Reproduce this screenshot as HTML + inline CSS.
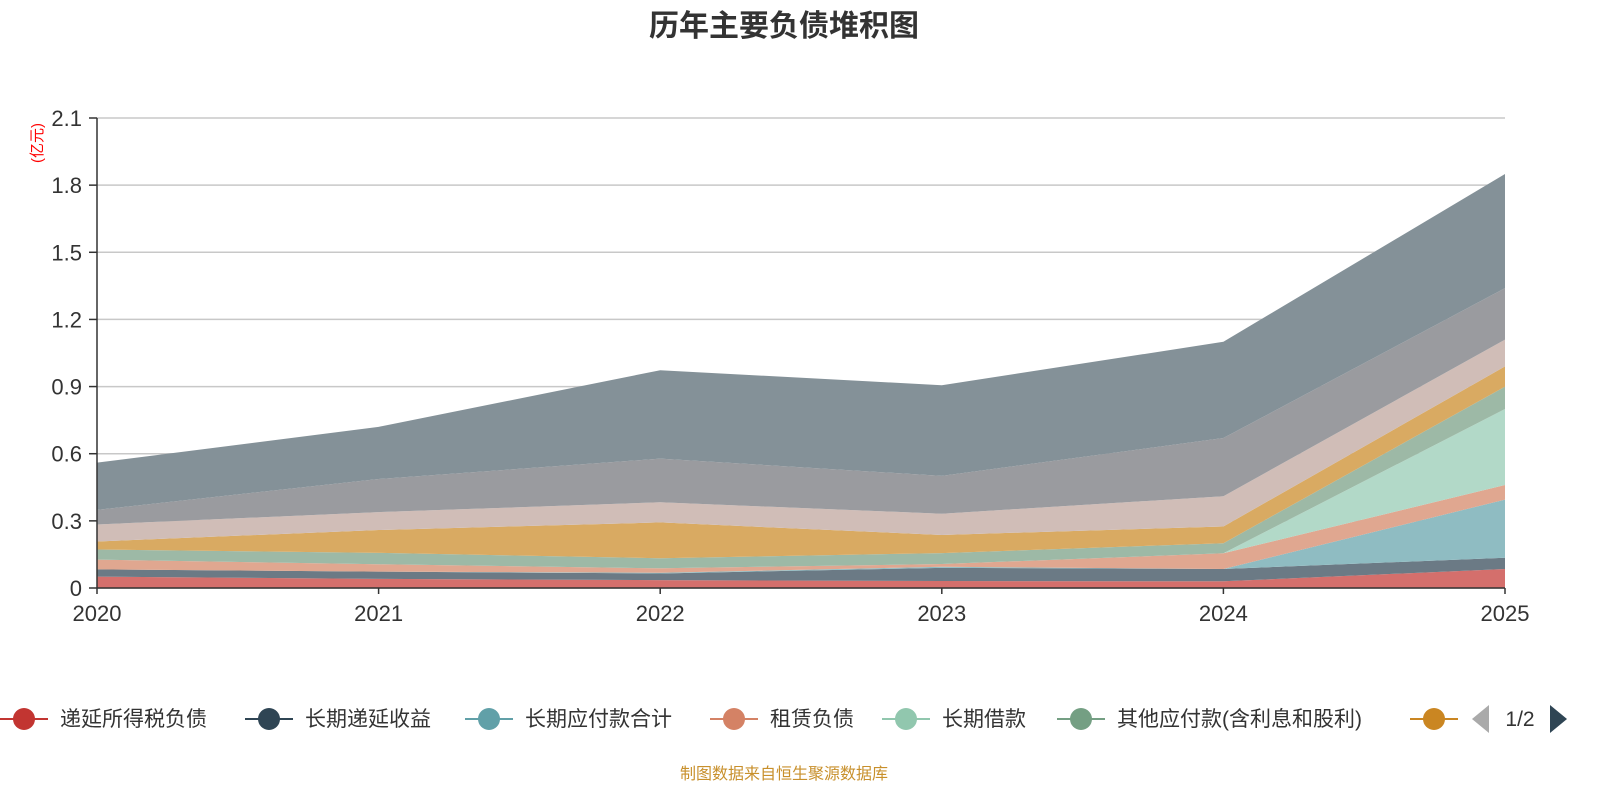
<!DOCTYPE html>
<html><head><meta charset="utf-8">
<style>
body{margin:0;background:#fff;font-family:"Liberation Sans","Noto Sans CJK SC",sans-serif;}
#wrap{position:relative;width:1600px;height:800px;overflow:hidden;}
svg text{font-family:"Liberation Sans","Noto Sans CJK SC",sans-serif;}
</style></head>
<body>
<div id="wrap">
<svg id="chart" width="1600" height="800"></svg>
</div>
<script>
const years = ["2020","2021","2022","2023","2024","2025"];
const seriesNames = ["递延所得税负债","长期递延收益","长期应付款合计","租赁负债","长期借款","其他应付款(含利息和股利)","应交税费","应付职工薪酬","合同负债","应付账款"];
const s0 = [0.051,0.041,0.035,0.031,0.030,0.085];
const s1 = [0.032,0.032,0.030,0.059,0.055,0.050];
const s2 = [0.000,0.000,0.003,0.005,0.000,0.260];
const s3 = [0.044,0.033,0.020,0.012,0.070,0.065];
const s4 = [0.000,0.000,0.000,0.000,0.000,0.340];
const s5 = [0.045,0.051,0.045,0.049,0.045,0.100];
const s6 = [0.036,0.102,0.160,0.081,0.075,0.090];
const s7 = [0.076,0.080,0.090,0.095,0.135,0.120];
const s8 = [0.065,0.148,0.195,0.169,0.260,0.230];
const s9 = [0.211,0.233,0.395,0.405,0.430,0.510];
const yTicks = ["0","0.3","0.6","0.9","1.2","1.5","1.8","2.1"];
const allSeries=[s0,s1,s2,s3,s4,s5,s6,s7,s8,s9];
const fills=["#d46f6c","#6b7a85","#8fbcc2","#e0a790","#b2d9c8","#9db9a6","#d9aa62","#d0bdb7","#9a9b9f","#849198"];
const legendColors=["#c23531","#2f4554","#61a0a8","#d48265","#91c7ae","#749f83","#ca8622"];
const NS="http://www.w3.org/2000/svg";
const svg=document.getElementById('chart');
const X0=97,X1=1505,Y0=588,Y1=118,YMAX=2.1;
const xs=i=>X0+i*(X1-X0)/(years.length-1);
const ys=v=>Y0-v/YMAX*(Y0-Y1);
function mk(tag,attrs,parent){const e=document.createElementNS(NS,tag);for(const k in attrs)e.setAttribute(k,attrs[k]);(parent||svg).appendChild(e);return e;}
let t=mk('text',{x:784,y:36,'text-anchor':'middle','font-size':30,'font-weight':'bold',fill:'#333'});
t.textContent='历年主要负债堆积图';


t=mk('text',{transform:'translate(42,143) rotate(-90)','text-anchor':'middle','font-size':15,fill:'#ff0000'});
t.textContent='(亿元)';


yTicks.forEach(l=>{
  const y=ys(parseFloat(l));
  const g=mk('line',{x1:X0,x2:X1,y1:y,y2:y,stroke:'#c8c8c8','stroke-width':1.5});
  
  
  mk('line',{x1:89,x2:X0,y1:y,y2:y,stroke:'#333','stroke-width':1.5});
  const tx=mk('text',{x:82,y:y+8,'text-anchor':'end','font-size':22,fill:'#333'});
  tx.textContent=l;
  
  
});
const cum=years.map(()=>0);
allSeries.forEach((s,k)=>{
  const lower=cum.slice();
  s.forEach((v,i)=>cum[i]+=v);
  let d='M'+years.map((_,i)=>xs(i)+','+ys(cum[i])).join(' L');
  for(let i=years.length-1;i>=0;i--) d+=' L'+xs(i)+','+ys(lower[i]);
  d+='Z';
  const p=mk('path',{d:d,fill:fills[k]});
  
  
});
mk('line',{x1:X0,x2:X0,y1:Y1,y2:Y0,stroke:'#333','stroke-width':1.5});
mk('line',{x1:X0,x2:X1,y1:Y0,y2:Y0,stroke:'#333','stroke-width':1.5});
years.forEach((yr,i)=>{
  mk('line',{x1:xs(i),x2:xs(i),y1:Y0,y2:Y0+6,stroke:'#333','stroke-width':1.5});
  const tx=mk('text',{x:xs(i),y:621,'text-anchor':'middle','font-size':22,fill:'#333'});
  tx.textContent=yr;
  
  
});
const legX=[0,245,465,710,882,1057,1410];
legX.forEach((x,i)=>{
  const g=mk('g',{});
  
  
  mk('line',{x1:x,x2:x+48,y1:719,y2:719,stroke:legendColors[i],'stroke-width':2},g);
  mk('circle',{cx:x+24,cy:719,r:11,fill:legendColors[i]},g);
  if(i<6){const tx=mk('text',{x:x+60,y:726,'font-size':21,fill:'#333'},g);tx.textContent=seriesNames[i];}
});
let a=mk('path',{d:'M1472,719 L1489,705 L1489,733Z',fill:'#aaa'});


t=mk('text',{x:1520,y:726,'text-anchor':'middle','font-size':21,fill:'#333'});t.textContent='1/2';


a=mk('path',{d:'M1567,719 L1550,705 L1550,733Z',fill:'#2f4554'});


t=mk('text',{x:784,y:779,'text-anchor':'middle','font-size':16,fill:'#c8902c'});t.textContent='制图数据来自恒生聚源数据库';


</script>
</body></html>
